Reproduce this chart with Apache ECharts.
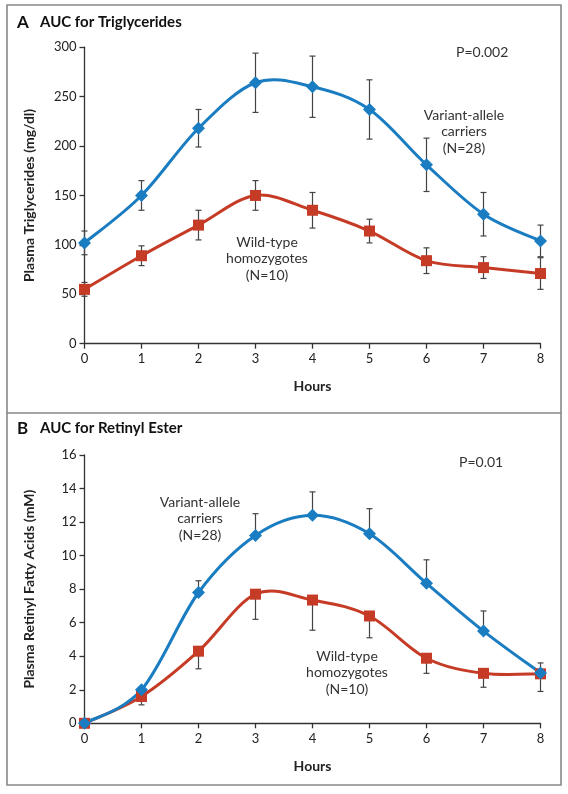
<!DOCTYPE html>
<html>
<head>
<meta charset="utf-8">
<script src="https://cdn.jsdelivr.net/npm/echarts@6/dist/echarts.min.js"></script>
<style>
html,body{margin:0;padding:0;background:#fff;}
#c{width:568px;height:794px;}
</style>
</head>
<body>
<div id="c"></div>
<script>
// ---- Data ----
var hours = [0, 1, 2, 3, 4, 5, 6, 7, 8];

// Panel A: Triglycerides (mg/dl)
var trigVariant = [102, 150, 218, 264, 260, 237, 181, 131, 104];
var trigVariantErrUp = [12, 15, 19, 30, 31, 30, 27, 22, 16];
var trigVariantErrDown = [12, 15, 19, 30, 31, 30, 27, 22, 16];
var trigWild = [55, 89, 120, 150, 135, 114, 84, 77, 71];
var trigWildErrUp = [7, 10, 15, 15, 18, 12, 13, 11, 16];
var trigWildErrDown = [7, 10, 15, 15, 18, 12, 13, 11, 16];

// Panel B: Retinyl fatty acids (mM)
var retVariant = [0, 2.0, 7.8, 11.2, 12.4, 11.3, 8.35, 5.5, 3.0];
var retVariantErrUp = [0, 0, 0.7, 1.3, 1.4, 1.5, 1.4, 1.2, 0.6];
var retVariantErrDown = [0, 0, 0, 0, 0, 0, 0, 0, 0];
var retWild = [0, 1.6, 4.3, 7.7, 7.35, 6.4, 3.88, 2.98, 2.95];
var retWildErrUp = [0, 0, 0, 0, 0, 0, 0, 0, 0];
var retWildErrDown = [0, 0.5, 1.05, 1.5, 1.8, 1.3, 0.9, 0.83, 1.05];

var yTicksA = [0, 50, 100, 150, 200, 250, 300];
var yTicksB = [0, 2, 4, 6, 8, 10, 12, 14, 16];

// ---- Styles ----
var BLUE = '#1a7cc1';
var RED = '#c63b26';
var AXIS = '#333';
var FONT = 'Lato, "Open Sans", sans-serif';

function pairs(ys) { return hours.map(function (h, i) { return [h, ys[i]]; }); }
function errData(ys, up, down) {
  return hours.map(function (h, i) { return [h, ys[i] - down[i], ys[i] + up[i]]; });
}
function errSeries(gi, data) {
  return {
    type: 'custom', xAxisIndex: gi, yAxisIndex: gi, z: 1, silent: true,
    data: data,
    renderItem: function (params, api) {
      var x = api.value(0), lo = api.value(1), hi = api.value(2);
      if (hi - lo <= 0) return null;
      var p1 = api.coord([x, lo]), p2 = api.coord([x, hi]);
      var w = 3;
      var st = { stroke: '#444', lineWidth: 1.2 };
      return {
        type: 'group', children: [
          { type: 'line', shape: { x1: p1[0], y1: p1[1], x2: p2[0], y2: p2[1] }, style: st },
          { type: 'line', shape: { x1: p1[0] - w, y1: p1[1], x2: p1[0] + w, y2: p1[1] }, style: st },
          { type: 'line', shape: { x1: p2[0] - w, y1: p2[1], x2: p2[0] + w, y2: p2[1] }, style: st }
        ]
      };
    }
  };
}
// Smooth curve (Catmull-Rom) through the data, drawn via the axis scales
function curveSeries(gi, ys, color) {
  return {
    type: 'custom', xAxisIndex: gi, yAxisIndex: gi, z: 2, silent: true,
    data: pairs(ys),
    renderItem: function (params, api) {
      if (params.dataIndex !== 0) return null;
      var pts = hours.map(function (h, i) { return api.coord([h, ys[i]]); });
      var d = 'M' + pts[0][0] + ' ' + pts[0][1];
      for (var i = 0; i < pts.length - 1; i++) {
        var p0 = pts[i - 1] || pts[i], p1 = pts[i], p2 = pts[i + 1], p3 = pts[i + 2] || pts[i + 1];
        var c1x = p1[0] + (p2[0] - p0[0]) / 6, c1y = p1[1] + (p2[1] - p0[1]) / 6;
        var c2x = p2[0] - (p3[0] - p1[0]) / 6, c2y = p2[1] - (p3[1] - p1[1]) / 6;
        d += ' C' + c1x + ' ' + c1y + ' ' + c2x + ' ' + c2y + ' ' + p2[0] + ' ' + p2[1];
      }
      return {
        type: 'path', shape: { pathData: d },
        style: { fill: 'none', stroke: color, lineWidth: 3, lineJoin: 'round' }
      };
    }
  };
}
function markerSeries(gi, ys, color, symbol, size) {
  return {
    type: 'scatter', xAxisIndex: gi, yAxisIndex: gi, z: 3,
    data: pairs(ys), symbol: symbol, symbolSize: size,
    itemStyle: { color: color, opacity: 1 }
  };
}
function xAx(gi) {
  return {
    type: 'value', gridIndex: gi, min: 0, max: 8, interval: 1,
    name: 'Hours', nameLocation: 'middle', nameGap: 36,
    nameTextStyle: { fontFamily: FONT, fontWeight: 'bold', fontSize: 14, color: '#222' },
    axisLine: { lineStyle: { color: AXIS, width: 1.3 } },
    axisTick: { length: 5, lineStyle: { color: AXIS, width: 1.3 } },
    axisLabel: { fontFamily: FONT, fontSize: 13, color: '#222', margin: 9 },
    splitLine: { show: false }
  };
}
function yAx(gi, ticks, name) {
  return {
    type: 'value', gridIndex: gi, min: ticks[0], max: ticks[ticks.length - 1],
    interval: ticks[1] - ticks[0],
    name: name, nameLocation: 'middle', nameGap: 48, nameRotate: 90,
    nameTextStyle: { fontFamily: FONT, fontWeight: 'bold', fontSize: 14, color: '#222' },
    axisLine: { show: true, lineStyle: { color: AXIS, width: 1.3 } },
    axisTick: { show: true, length: 5, lineStyle: { color: AXIS, width: 1.3 } },
    axisLabel: { fontFamily: FONT, fontSize: 13, color: '#222', margin: 8 },
    splitLine: { show: false }
  };
}
function label(cx, top, lines) {
  return {
    type: 'text', z: 10, position: [cx, top],
    style: { text: lines, fontFamily: FONT, fontSize: 14, fill: '#333', textAlign: 'center', textVerticalAlign: 'top', lineHeight: 16.6 }
  };
}

var chart = echarts.init(document.getElementById('c'), null, { renderer: 'canvas' });
chart.setOption({
  animation: false,
  backgroundColor: '#fff',
  grid: [
    { left: 84.5, right: 27.5, top: 47.2, bottom: 450.3 },
    { left: 84.5, right: 27.5, top: 455, bottom: 70.7 }
  ],
  xAxis: [xAx(0), xAx(1)],
  yAxis: [yAx(0, yTicksA, 'Plasma Triglycerides (mg/dl)'), yAx(1, yTicksB, 'Plasma Retinyl Fatty Acids (mM)')],
  series: [
    errSeries(0, errData(trigVariant, trigVariantErrUp, trigVariantErrDown)),
    errSeries(0, errData(trigWild, trigWildErrUp, trigWildErrDown)),
    curveSeries(0, trigWild, RED),
    curveSeries(0, trigVariant, BLUE),
    markerSeries(0, trigWild, RED, 'rect', 11),
    markerSeries(0, trigVariant, BLUE, 'diamond', 13),
    errSeries(1, errData(retVariant, retVariantErrUp, retVariantErrDown)),
    errSeries(1, errData(retWild, retWildErrUp, retWildErrDown)),
    curveSeries(1, retWild, RED),
    curveSeries(1, retVariant, BLUE),
    markerSeries(1, retWild, RED, 'rect', 11),
    markerSeries(1, retVariant, BLUE, 'diamond', 13)
  ],
  graphic: [
    { type: 'rect', shape: { x: 7, y: 5, width: 554, height: 780 }, style: { fill: 'none', stroke: '#888', lineWidth: 1.6 }, z: 0 },
    { type: 'line', shape: { x1: 7, y1: 413, x2: 561, y2: 413 }, style: { stroke: '#888', lineWidth: 1.6 }, z: 0 },
    { type: 'text', left: 17, top: 14, style: { text: 'A', fontFamily: FONT, fontWeight: 'bold', fontSize: 17, fill: '#111' } },
    { type: 'text', left: 40, top: 15, style: { text: 'AUC for Triglycerides', fontFamily: FONT, fontWeight: 'bold', fontSize: 15, fill: '#111' } },
    { type: 'text', left: 17, top: 420, style: { text: 'B', fontFamily: FONT, fontWeight: 'bold', fontSize: 17, fill: '#111' } },
    { type: 'text', left: 40, top: 421, style: { text: 'AUC for Retinyl Ester', fontFamily: FONT, fontWeight: 'bold', fontSize: 15, fill: '#111' } },
    { type: 'text', left: 456, top: 45, style: { text: 'P=0.002', fontFamily: FONT, fontSize: 14, fill: '#333' } },
    { type: 'text', left: 459, top: 455, style: { text: 'P=0.01', fontFamily: FONT, fontSize: 14, fill: '#333' } },
    label(464, 107, 'Variant-allele\ncarriers\n(N=28)'),
    label(267, 234, 'Wild-type\nhomozygotes\n(N=10)'),
    label(200, 494, 'Variant-allele\ncarriers\n(N=28)'),
    label(347, 648, 'Wild-type\nhomozygotes\n(N=10)')
  ]
});
</script>
</body>
</html>
